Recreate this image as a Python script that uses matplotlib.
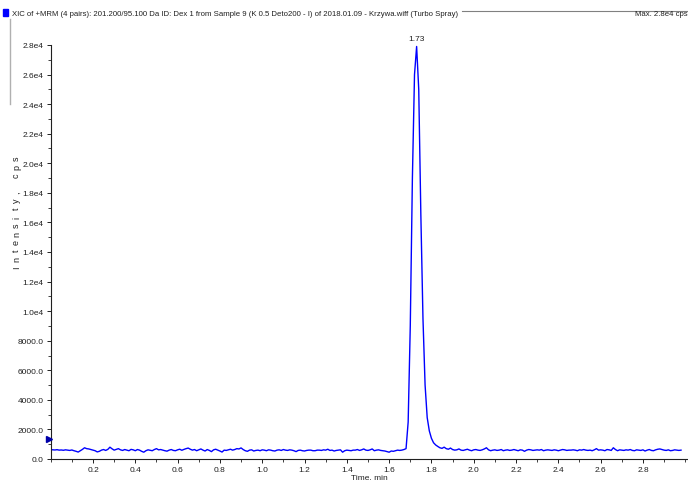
import numpy as np
import matplotlib
matplotlib.use("Agg")
import matplotlib.pyplot as plt
import matplotlib.transforms as mtransforms
from matplotlib.patches import Rectangle
from matplotlib.lines import Line2D
from matplotlib.ticker import FixedLocator, MultipleLocator

# Chromatogram (XIC) sampled every 0.01 min starting at 0.00 min
t_start = 0.0
t_step = 0.01

baseline_before = [
    640, 620, 610, 630, 600, 610, 590, 620, 600, 580,
    610, 560, 520, 470, 560, 650, 760, 700, 680, 640,
    600, 560, 480, 520, 600, 640, 580, 650, 800, 690,
    600, 650, 700, 620, 580, 640, 600, 560, 650, 620,
    560, 640, 600, 520, 460, 560, 620, 590, 560, 640,
    700, 620, 640, 600, 560, 530, 600, 640, 580, 560,
    620, 660, 590, 650, 700, 740, 660, 600, 640, 560,
    620, 680, 600, 540, 640, 580, 500, 620, 660, 600,
    540, 470, 600, 580, 620, 660, 600, 640, 700, 680,
    750, 640, 560, 520, 600, 620, 540, 580, 600, 560,
    620, 600, 560, 620, 600, 560, 540, 600, 620, 580,
    640, 600, 580, 620, 600, 560, 500, 580, 600, 560,
    540, 580, 600, 600, 560, 560, 600, 600, 580, 620,
    600, 660, 580, 600, 540, 580, 600, 620, 460, 560,
    600, 580, 560, 600, 600, 640, 580, 620, 680, 600,
    580, 620, 680, 560, 600, 620, 580, 560, 540, 500,
    460, 540, 520, 560, 600, 580, 600, 640,
]
peak = [
    700, 2500, 9000, 19000, 26000, 27900, 25000, 16500,
    9500, 5000, 2800, 1900, 1400, 1100, 950, 850,
]
baseline_after = [
    760, 720, 800, 700, 660, 740, 640, 600, 620, 680, 600, 580, 620, 660, 600, 560,
    620, 640, 600, 580, 620, 680, 760, 620, 560, 600,
    620, 580, 600, 640, 560, 600, 620, 580, 600, 640,
    600, 560, 620, 600, 520, 600, 640, 620, 580, 600,
    620, 600, 640, 560, 600, 620, 600, 580, 620, 600,
    560, 600, 640, 620, 580, 600, 600, 620, 600, 560,
    620, 600, 640, 600, 580, 600, 560, 620, 700, 600,
    620, 600, 560, 640, 620, 580, 760, 640, 560, 620,
    600, 580, 620, 600, 640, 580, 560, 620, 600, 580,
    620, 540, 600, 640, 580, 560, 620, 660, 680, 640,
    600, 580, 620, 560, 580, 620, 600, 580, 600,
]

intensity = np.array(baseline_before + peak + baseline_after, dtype=float)
time_min = t_start + np.arange(intensity.size) * t_step

peak_time = 1.73
peak_label = "1.73"

y_ticks = [0, 2000, 4000, 6000, 8000, 10000, 12000, 14000, 16000,
           18000, 20000, 22000, 24000, 26000, 28000]
y_tick_labels = ["0.0", "2000.0", "4000.0", "6000.0", "8000.0", "1.0e4",
                 "1.2e4", "1.4e4", "1.6e4", "1.8e4", "2.0e4", "2.2e4",
                 "2.4e4", "2.6e4", "2.8e4"]
x_ticks = [0.2, 0.4, 0.6, 0.8, 1.0, 1.2, 1.4, 1.6, 1.8, 2.0, 2.2, 2.4, 2.6, 2.8]
x_tick_labels = ["0.2", "0.4", "0.6", "0.8", "1.0", "1.2", "1.4", "1.6",
                 "1.8", "2.0", "2.2", "2.4", "2.6", "2.8"]

title_text = ("XIC of +MRM (4 pairs): 201.200/95.100 Da ID: Dex 1 from Sample 9 "
              "(K 0.5 Deto200 - I) of 2018.01.09 - Krzywa.wiff (Turbo Spray)")
max_text = "Max. 2.8e4 cps"
y_label = "Intensity, cps"
marker_level = 1350

plt.rcParams["font.family"] = ["Liberation Sans", "DejaVu Sans"]
TXT = "#202020"

W, H = 688, 481
fig = plt.figure(figsize=(W / 100, H / 100), dpi=100)
ax = fig.add_axes([50.7 / W, 1 - 460 / H, 1 - 50.7 / W, (460 - 46) / H])

ax.plot(time_min, intensity, color="#0000ff", lw=1.0)
ax.set_xlim(0, 3.013)
ax.set_ylim(0, 28000)

for s in ["top", "right"]:
    ax.spines[s].set_visible(False)
for s in ["left", "bottom"]:
    ax.spines[s].set_linewidth(0.8)
    ax.spines[s].set_color(TXT)

ax.yaxis.set_major_locator(FixedLocator(y_ticks))
ax.set_yticklabels(y_tick_labels)
ax.yaxis.set_minor_locator(MultipleLocator(1000))
ax.xaxis.set_major_locator(FixedLocator(x_ticks))
ax.set_xticklabels(x_tick_labels)
ax.xaxis.set_minor_locator(MultipleLocator(0.1))
ax.tick_params(which="major", direction="out", length=3, width=0.7,
               labelsize=6, pad=2, colors=TXT)
ax.tick_params(which="minor", direction="out", length=2, width=0.6,
               colors=TXT)

ax.set_xlabel("Time, min", fontsize=6, labelpad=0, color=TXT)

# letter-spaced vertical axis title, one glyph at a time on a shared baseline
y0, step = 268, 8.4
for i, ch in enumerate(y_label):
    if ch != " ":
        fig.text(19 / W, 1 - (y0 - i * step) / H, ch, fontsize=6.5,
                 rotation=90, rotation_mode="anchor", ha="center",
                 va="baseline", color=TXT)

# retention time annotation
peak_val = intensity[np.argmin(np.abs(time_min - peak_time))]
ax.annotate(peak_label, (peak_time, peak_val), xytext=(0, 3),
            textcoords="offset points", ha="center", va="bottom",
            fontsize=6, color=TXT)

# small marker on the intensity axis
shift = mtransforms.offset_copy(ax.transData, fig=fig, x=-2, y=0, units="dots")
ax.plot([0], [marker_level], marker=">", color="#0000aa", markersize=4,
        clip_on=False, zorder=5, transform=shift)

# header line
fig.patches.append(Rectangle((3 / W, 1 - 17 / H), 5 / W, 7 / H,
                             transform=fig.transFigure, color="#0000ff"))
fig.text(12 / W, 1 - 14 / H, title_text, fontsize=5.55, va="center",
         ha="left", color=TXT)
fig.text(1.0, 1 - 14 / H, max_text, fontsize=5.55, va="center", ha="right",
         color=TXT)
fig.lines.append(Line2D([462 / W, 1.0], [1 - 12 / H, 1 - 12 / H],
                        transform=fig.transFigure, color="#808080", lw=0.8))
fig.lines.append(Line2D([10 / W, 10 / W], [1 - 20 / H, 1 - 105 / H],
                        transform=fig.transFigure, color="#b0b0b0", lw=1.0))

fig.savefig("out.png", dpi=100)
